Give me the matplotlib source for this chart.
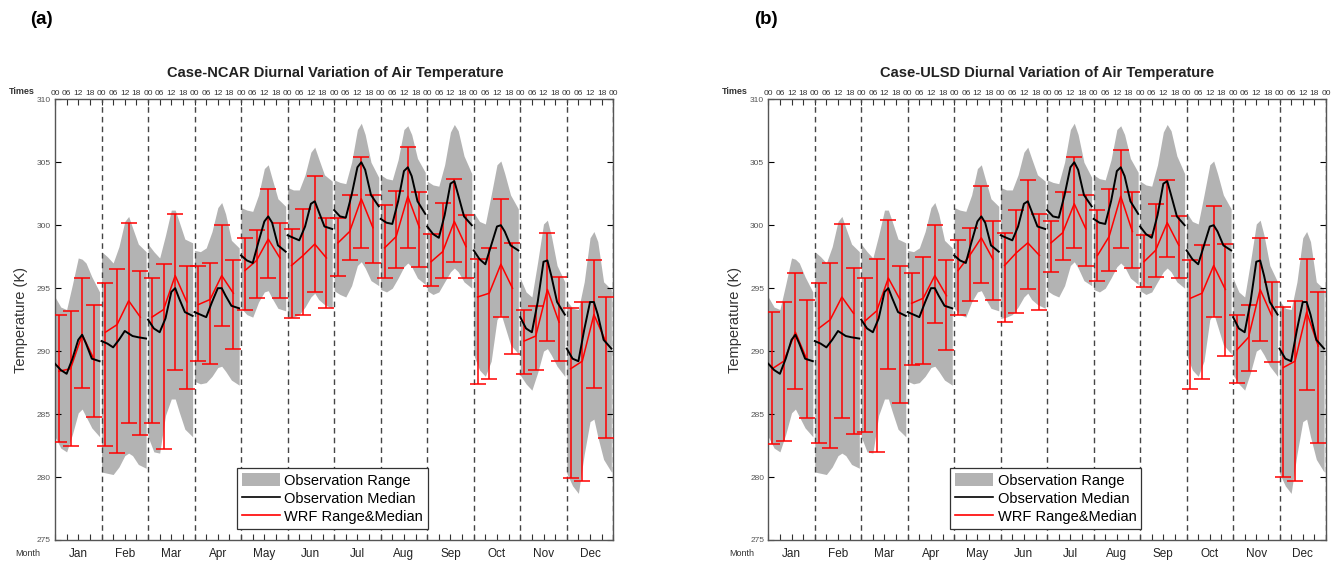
import matplotlib
matplotlib.use('Agg')
import matplotlib.pyplot as plt
from matplotlib.patches import Patch
from matplotlib.lines import Line2D
import numpy as np

plt.rcParams['font.family'] = ['Liberation Sans', 'DejaVu Sans']

months = ["Jan", "Feb", "Mar", "Apr", "May", "Jun", "Jul", "Aug", "Sep", "Oct", "Nov", "Dec"]
time_labels = ["00", "06", "12", "18"]

# observation hours (local) sampled in each month
obs_hours = [0, 3, 6, 9, 12, 14, 16, 19, 23]
obs_upper = [
    [294.3, 293.5, 293.3, 295.3, 297.4, 297.3, 297.0, 295.9, 294.7],
    [297.9, 297.5, 297.0, 298.3, 300.3, 300.7, 299.8, 298.5, 297.9],
    [298.5, 297.9, 297.4, 299.2, 301.2, 301.2, 300.3, 298.9, 298.6],
    [298.0, 297.9, 298.2, 299.5, 301.4, 301.8, 300.9, 298.8, 298.2],
    [301.4, 301.2, 301.1, 302.4, 304.5, 304.8, 303.7, 302.1, 301.5],
    [303.0, 302.8, 302.8, 304.0, 305.8, 306.2, 305.3, 304.0, 303.5],
    [303.6, 303.4, 303.3, 305.0, 307.6, 308.1, 307.2, 305.0, 303.8],
    [304.0, 303.7, 303.6, 305.2, 307.6, 307.9, 307.2, 305.3, 304.2],
    [303.5, 303.2, 303.1, 304.8, 307.4, 308.0, 307.5, 305.5, 304.1],
    [301.0, 300.3, 300.1, 302.4, 304.8, 305.1, 304.1, 302.4, 301.3],
    [295.8, 294.7, 294.3, 297.1, 300.1, 300.4, 299.2, 296.8, 295.5],
    [294.0, 293.4, 293.3, 295.5, 299.0, 299.5, 298.7, 295.5, 294.9],
]
obs_lower = [
    [283.2, 282.3, 282.0, 283.4, 285.1, 285.4, 284.8, 283.9, 283.2],
    [280.4, 280.3, 280.2, 280.8, 281.7, 281.9, 281.7, 281.0, 280.7],
    [283.2, 282.0, 281.9, 284.9, 286.2, 286.2, 285.2, 283.8, 283.2],
    [287.6, 287.4, 287.5, 288.0, 288.7, 288.8, 288.4, 287.7, 287.3],
    [293.4, 292.9, 292.7, 293.9, 294.7, 294.8, 294.2, 293.4, 293.2],
    [292.6, 292.7, 292.9, 293.5, 294.3, 294.6, 294.1, 293.7, 293.4],
    [294.8, 294.5, 294.3, 295.2, 296.8, 297.1, 296.6, 295.6, 295.2],
    [294.9, 294.7, 295.0, 295.8, 296.7, 297.0, 296.7, 295.8, 295.3],
    [294.8, 294.5, 294.7, 295.5, 296.3, 296.6, 296.3, 295.5, 295.0],
    [289.7, 288.5, 288.0, 289.2, 292.5, 293.0, 292.0, 290.5, 289.8],
    [288.1, 287.4, 286.9, 288.3, 290.0, 290.2, 289.7, 288.8, 288.0],
    [280.3, 279.3, 278.7, 281.8, 284.4, 284.6, 283.2, 281.4, 280.4],
]
obs_median = [
    [289.0, 288.5, 288.2, 289.4, 290.9, 291.3, 290.6, 289.4, 289.2],
    [290.8, 290.6, 290.3, 290.9, 291.6, 291.4, 291.2, 291.1, 291.0],
    [292.5, 291.8, 291.5, 292.6, 294.7, 295.0, 294.2, 293.1, 292.8],
    [293.1, 292.9, 292.7, 293.9, 295.0, 295.0, 294.4, 293.6, 293.4],
    [297.6, 297.2, 297.0, 298.7, 300.3, 300.7, 300.2, 298.4, 297.9],
    [299.2, 299.0, 298.8, 299.9, 301.7, 301.9, 301.1, 299.9, 299.7],
    [301.2, 300.7, 300.6, 302.4, 304.6, 305.0, 304.4, 302.4, 301.5],
    [300.5, 300.2, 300.1, 301.9, 304.3, 304.6, 303.9, 301.9, 300.9],
    [299.9, 299.3, 299.0, 300.8, 303.3, 303.5, 302.4, 300.7, 300.0],
    [298.0, 297.3, 296.9, 298.4, 299.9, 300.0, 299.5, 298.4, 298.0],
    [292.7, 291.8, 291.5, 293.9, 297.1, 297.2, 296.0, 293.9, 292.9],
    [290.2, 289.4, 289.2, 291.7, 293.9, 293.9, 292.9, 290.9, 290.2],
]

# WRF output hours (local)
wrf_hours = [2, 8, 14, 20]
ncar_top = [
    [292.9, 293.2, 295.8, 293.7], [295.4, 296.5, 300.2, 296.4], [295.8, 296.9, 300.9, 296.8],
    [296.8, 297.0, 300.0, 297.2], [299.0, 299.6, 302.9, 300.2], [299.7, 301.3, 303.9, 300.6],
    [300.6, 302.4, 305.4, 302.4], [301.6, 302.7, 306.2, 302.6], [299.3, 301.8, 303.7, 300.8],
    [297.3, 298.2, 302.1, 298.6], [293.3, 293.6, 299.4, 295.9], [293.4, 293.9, 297.2, 294.3],
]
ncar_bottom = [
    [282.8, 282.5, 287.1, 284.8], [282.5, 281.9, 284.3, 283.3], [284.3, 282.2, 288.5, 287.0],
    [289.2, 289.0, 292.0, 290.2], [293.3, 294.2, 295.8, 294.2], [292.6, 292.9, 294.7, 293.4],
    [296.0, 297.2, 298.2, 297.0], [295.8, 296.6, 298.2, 296.7], [295.2, 295.8, 297.1, 295.8],
    [287.4, 287.8, 292.7, 289.8], [288.2, 288.5, 290.8, 289.2], [279.9, 279.7, 287.1, 283.1],
]
ncar_median = [
    [288.4, 288.6, 291.3, 289.4], [291.5, 292.1, 294.0, 292.7], [292.7, 293.3, 296.0, 293.9],
    [293.7, 294.1, 296.0, 294.6], [296.4, 297.2, 298.9, 297.4], [296.8, 297.6, 298.5, 297.4],
    [298.6, 299.5, 302.1, 299.8], [298.2, 299.1, 302.3, 299.8], [297.1, 297.9, 300.3, 298.3],
    [294.3, 294.6, 296.9, 295.0], [290.8, 291.2, 294.9, 292.3], [288.6, 289.2, 292.9, 290.8],
]
ulsd_top = [
    [293.1, 293.9, 296.2, 294.1], [295.4, 297.0, 300.1, 296.6], [295.8, 297.3, 300.4, 296.8],
    [296.2, 297.5, 300.0, 297.2], [298.8, 299.8, 303.1, 300.3], [299.4, 301.2, 303.6, 300.9],
    [300.3, 302.6, 305.4, 302.4], [301.2, 302.9, 306.0, 302.6], [299.2, 301.7, 303.6, 300.7],
    [297.2, 298.4, 301.5, 298.5], [292.9, 293.7, 299.0, 295.5], [293.5, 294.0, 297.3, 294.7],
]
ulsd_bottom = [
    [282.6, 282.9, 287.0, 284.7], [282.7, 282.3, 284.7, 283.4], [283.6, 282.0, 288.6, 285.9],
    [288.9, 289.0, 292.2, 290.1], [292.9, 294.0, 295.4, 294.1], [292.3, 293.0, 294.9, 293.3],
    [296.3, 297.2, 298.2, 296.8], [295.6, 296.4, 298.2, 296.6], [295.1, 295.9, 297.5, 295.8],
    [287.0, 287.8, 292.7, 289.6], [287.5, 288.4, 290.8, 289.1], [280.0, 279.7, 286.9, 282.7],
]
ulsd_median = [
    [288.6, 289.2, 291.5, 289.3], [291.8, 292.5, 294.3, 293.0], [292.4, 293.2, 295.8, 294.1],
    [293.8, 294.2, 296.0, 294.4], [296.4, 297.6, 299.0, 297.3], [296.8, 297.8, 298.6, 297.6],
    [298.6, 299.4, 301.7, 299.7], [297.6, 299.1, 302.3, 299.5], [297.1, 298.0, 300.2, 298.4],
    [294.2, 294.6, 296.8, 294.9], [290.1, 291.1, 294.9, 292.8], [288.7, 289.2, 293.1, 290.4],
]

GREY = "#b3b3b3"
W, H = 1343, 564


def draw_panel(ax, title, top, bottom, median, title_x, tag, tag_x):
    obs_h = np.array(obs_hours) / 6.0
    wrf_h = np.array(wrf_hours) / 6.0
    for m in range(12):
        x = 4 * m + obs_h
        ax.fill_between(x, obs_lower[m], obs_upper[m], color=GREY, lw=0, zorder=1)
        ax.plot(x, obs_median[m], color="black", lw=1.4, zorder=4)
        xw = 4 * m + wrf_h
        med = np.array(median[m])
        ax.errorbar(xw, med, yerr=[med - np.array(bottom[m]), np.array(top[m]) - med],
                    color="red", lw=1.1, capsize=5.5, capthick=1.1, zorder=3)
    for b in range(4, 49, 4):
        ax.axvline(b, color="#444444", ls=(0, (4, 3)), lw=1.0, zorder=2)

    ax.set_xlim(0, 48)
    ax.set_ylim(275, 310)
    ax.set_xticks(range(49))
    ax.set_xticklabels(time_labels * 12 + ["00"])
    ax.xaxis.set_ticks_position("both")
    ax.tick_params(axis="x", direction="in", length=4, width=0.8, labeltop=True,
                   labelbottom=False, labelsize=6, pad=2, colors="#333333")
    ax.set_yticks(range(275, 311, 5))
    ax.yaxis.set_ticks_position("both")
    ax.tick_params(axis="y", direction="in", length=4, width=0.8, labelsize=6,
                   labelcolor="#555555", pad=3)
    for s in ax.spines.values():
        s.set_color("#555555")
        s.set_linewidth(1.0)
    ax.set_ylabel("Temperature (K)", fontsize=10.5, color="#333333", labelpad=6)
    for m, name in enumerate(months):
        ax.text(4 * m + 2, -0.031, name, transform=ax.get_xaxis_transform(),
                ha="center", va="center", fontsize=8.5, color="#222222")

    handles = [Patch(facecolor=GREY, edgecolor="none"),
               Line2D([], [], color="black", lw=1.2),
               Line2D([], [], color="red", lw=1.2)]
    leg = ax.legend(handles, ["Observation Range", "Observation Median", "WRF Range&Median"],
                    loc="lower left", bbox_to_anchor=(0.313, 0.008), fontsize=10.5,
                    handlelength=2.6, handleheight=1.0, labelspacing=0.25, borderpad=0.35,
                    handletextpad=0.3, fancybox=False, framealpha=1, edgecolor="#333333")
    leg.get_frame().set_linewidth(0.9)

    fig = ax.figure
    fig.text(title_x / W, 1 - 73 / H, title, ha="center", va="center",
             fontsize=10.5, fontweight="bold", color="#222222")
    fig.text(tag_x / W, 1 - 20 / H, tag, ha="center", va="center",
             fontsize=13.5, fontweight="bold")
    left_px = ax.get_position().x0 * W
    fig.text((left_px - 33) / W, 1 - 92 / H, "Times", ha="center", va="center",
             fontsize=6.5, fontweight="bold", color="#333333")
    fig.text((left_px - 27) / W, 1 - 553 / H, "Month", ha="center", va="center",
             fontsize=6.5, color="#333333")


fig = plt.figure(figsize=(W / 100, H / 100), dpi=100)
ax_a = fig.add_axes([55 / W, 1 - 540 / H, 558.3 / W, 440.7 / H])
ax_b = fig.add_axes([768.3 / W, 1 - 540 / H, 557.7 / W, 440.7 / H])

draw_panel(ax_a, "Case-NCAR Diurnal Variation of Air Temperature",
           ncar_top, ncar_bottom, ncar_median, 335, "(a)", 41)
draw_panel(ax_b, "Case-ULSD Diurnal Variation of Air Temperature",
           ulsd_top, ulsd_bottom, ulsd_median, 1047, "(b)", 766)

fig.savefig("out.png", dpi=100)
plt.close(fig)
